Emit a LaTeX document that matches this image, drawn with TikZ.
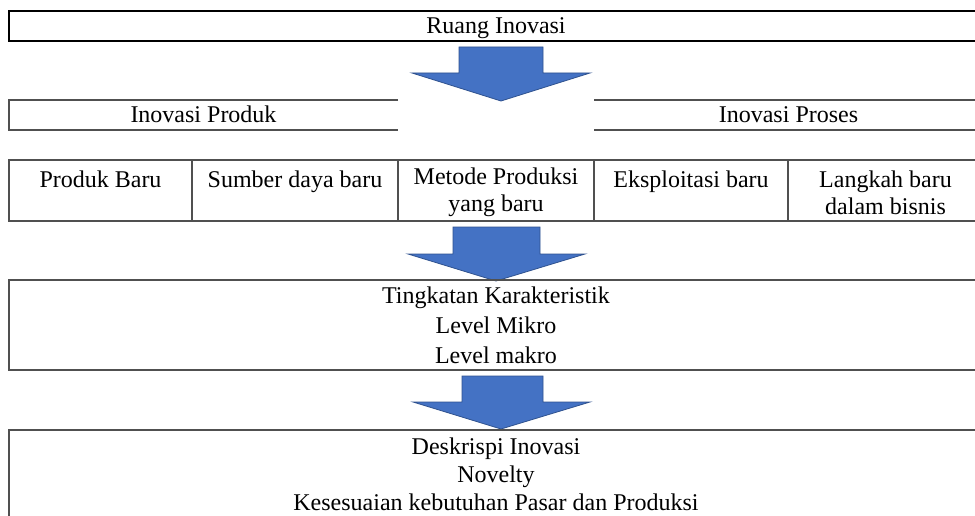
\documentclass[tikz,border=0pt]{standalone}
\usepackage{fontspec}
\setmainfont{Liberation Serif}
\definecolor{arrowfill}{RGB}{68,114,196}
\definecolor{arrowedge}{RGB}{47,82,143}
\definecolor{boxline}{RGB}{80,80,80}
\begin{document}
\begin{tikzpicture}[x=1pt,y=-1pt,
  every node/.style={font=\fontsize{24}{29}\selectfont, inner sep=0pt, outer sep=0pt},
  oneline/.style={text height=18pt, text depth=3pt},
  box/.style={draw=boxline, line width=1.6pt, rectangle, anchor=north west, align=center},
  cell/.style={box, minimum height=61pt, font=\fontsize{24}{27}\selectfont},
  edge/.style={draw=boxline, line width=1.6pt},
  blockarrow/.style={fill=arrowfill, draw=arrowedge, line width=0.8pt, line join=miter}]
\useasboundingbox (0,0) rectangle (975,516);
\fill[white] (0,0) rectangle (975,516);
% top box
\node[box, oneline, draw=black, minimum width=974pt, minimum height=30pt] (ruang) at (9,11) {Ruang Inovasi};
% arrow 1
\path[blockarrow] (459,47) -- (543,47) -- (543,73) -- (590,73) -- (501,101) -- (412,73) -- (459,73) -- cycle;
% product / process
\node[oneline, minimum width=389pt, minimum height=30pt, anchor=north west] (iprod) at (9,100) {Inovasi Produk};
\draw[edge] (iprod.north east) -- (iprod.north west) -- (iprod.south west) -- (iprod.south east);
\node[oneline, minimum width=389pt, minimum height=30pt, anchor=north west] (iproc) at (594,100) {Inovasi Proses};
\draw[edge] (iproc.north west) -- (iproc.north east) -- (iproc.south east) -- (iproc.south west);
% cells
\node[cell, minimum width=183pt] (c1) at (9,160) {\rule{0pt}{21pt}Produk Baru\\\mbox{}};
\node[cell, minimum width=206pt] (c2) at (192,160) {\rule{0pt}{21pt}Sumber daya baru\\\mbox{}};
\node[cell, minimum width=196pt] (c3) at (398,160) {\rule{0pt}{21pt}Metode Produksi\\yang baru};
\node[cell, minimum width=194pt] (c4) at (594,160) {\rule{0pt}{21pt}Eksploitasi baru\\\mbox{}};
\node[cell, minimum width=195pt] (c5) at (788,160) {\rule{0pt}{21pt}Langkah baru\\dalam bisnis};
% arrow 2
\path[blockarrow] (453,227) -- (540,227) -- (540,254) -- (585,254) -- (496,281) -- (408,254) -- (453,254) -- cycle;
% characteristics
\node[box, minimum width=974pt, minimum height=90pt, font=\fontsize{24}{30}\selectfont] (tingkat) at (9,280) {Tingkatan Karakteristik\\Level Mikro\\Level makro};
% arrow 3
\path[blockarrow] (462,376) -- (543,376) -- (543,402) -- (590,402) -- (501,429) -- (413,402) -- (462,402) -- cycle;
% description
\node[box, minimum width=974pt, minimum height=88pt, font=\fontsize{24}{28}\selectfont] (deskripsi) at (9,430) {Deskrispi Inovasi\\Novelty\\Kesesuaian kebutuhan Pasar dan Produksi};
\end{tikzpicture}
\end{document}
